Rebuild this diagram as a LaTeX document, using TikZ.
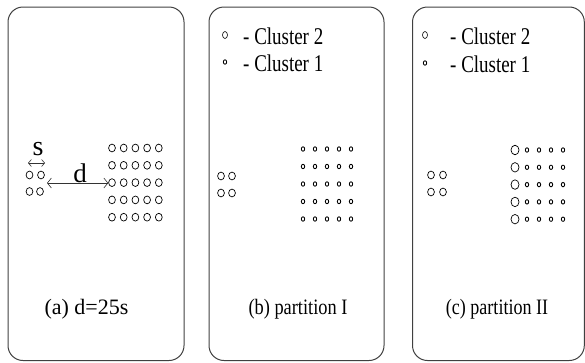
\documentclass[tikz,border=0pt]{standalone}
\usepackage{fontspec}
\setmainfont{Liberation Serif}
\usetikzlibrary{shapes.geometric,arrows.meta}

\begin{document}
\begin{tikzpicture}[x=1pt,y=-1pt,
  panel/.style={draw=black!75,line width=1pt,rounded corners=15pt},
  ring/.style={ellipse,draw,line width=0.7pt,inner sep=0pt,minimum width=6.8pt,minimum height=7.8pt},
  pip/.style={ellipse,draw,line width=0.85pt,inner sep=0pt,minimum width=3.4pt,minimum height=4.4pt},
  bigring/.style={ellipse,draw,line width=0.7pt,inner sep=0pt,minimum width=8pt,minimum height=9.5pt},
  keyring/.style={ellipse,draw,line width=0.6pt,inner sep=0pt,minimum width=5pt,minimum height=7pt},
  txt/.style={inner sep=0pt,font=\fontsize{24}{24}\selectfont},
  caption/.style={inner sep=0pt,font=\fontsize{22}{22}\selectfont,anchor=base},
  dimline/.style={draw=black!80,line width=0.6pt,
    {Straight Barb[length=4pt,width=10pt]}-{Straight Barb[length=4pt,width=10pt]}},
  dimsmall/.style={draw=black!80,line width=0.6pt,
    {Straight Barb[length=3pt,width=7pt]}-{Straight Barb[length=3pt,width=7pt]}}
]
\useasboundingbox (0,0) rectangle (585,362);

% three panels
\draw[panel] (8,7) rectangle (184,360.5);
\draw[panel] (209,7) rectangle (384,360.5);
\draw[panel] (412.5,7) rectangle (584.3,360.5);

% ---------- panel (a) ----------
\node[ring] (a-s11) at (29.5,175) {};
\node[ring] (a-s12) at (41,175) {};
\node[ring] (a-s21) at (29.5,191.5) {};
\node[ring] (a-s22) at (40,191.5) {};
\foreach \r in {1,...,5}
  \foreach \c in {1,...,5}
    \node[ring] (a-g\r\c) at ({100.3+11.7*\c},{130.7+17.3*\r}) {};

\coordinate (s-l) at (28,163);
\coordinate (s-r) at (45,163);
\draw[dimsmall] (s-l) -- (s-r);
\node[txt,font=\fontsize{28}{28}\selectfont,anchor=base] (s-lbl) at (38,155) {s};

\coordinate (d-l) at (47,183);
\draw[dimline] (d-l) -- (d-l -| a-g31.west);
\node[txt,font=\fontsize{27}{27}\selectfont,anchor=base] (d-lbl) at (80,182) {d};

\node[caption] (cap-a) at (86.5,314) {(a) d=25s};

% ---------- panel (b) ----------
\node[keyring] (b-k2) at (225,35) {};
\node[pip] (b-k1) at (225,62) {};
\node[txt,anchor=base west] (b-t2) at (243,44) {\scalebox{0.79}[1]{- Cluster 2}};
\node[txt,anchor=base west] (b-t1) at (243,71.5) {\scalebox{0.79}[1]{- Cluster 1}};

\node[ring] (b-s11) at (221,176) {};
\node[ring] (b-s12) at (232,176) {};
\node[ring] (b-s21) at (221,193) {};
\node[ring] (b-s22) at (232,193) {};
\foreach \r in {1,...,5}
  \foreach \c in {1,...,5}
    \node[pip] (b-g\r\c) at ({291+12*\c},{131.5+17.5*\r}) {};

\node[caption] (cap-b) at (298,314) {\scalebox{0.835}[1]{(b) partition I}};

% ---------- panel (c) ----------
\node[keyring] (c-k2) at (425,35) {};
\node[pip] (c-k1) at (425,63) {};
\node[txt,anchor=base west] (c-t2) at (450,44) {\scalebox{0.79}[1]{- Cluster 2}};
\node[txt,anchor=base west] (c-t1) at (450,72) {\scalebox{0.79}[1]{- Cluster 1}};

\node[ring] (c-s11) at (431,175) {};
\node[ring] (c-s12) at (443,175) {};
\node[ring] (c-s21) at (431,192) {};
\node[ring] (c-s22) at (443,192) {};
\foreach \r in {1,...,5} {
  \node[bigring] (c-g\r1) at (515,{132.7+17.3*\r}) {};
  \foreach \c in {2,...,5}
    \node[pip] (c-g\r\c) at ({503+12*\c},{132.7+17.3*\r}) {};
}

\node[caption] (cap-c) at (497,314) {\scalebox{0.82}[1]{(c) partition II}};
\end{tikzpicture}
\end{document}
